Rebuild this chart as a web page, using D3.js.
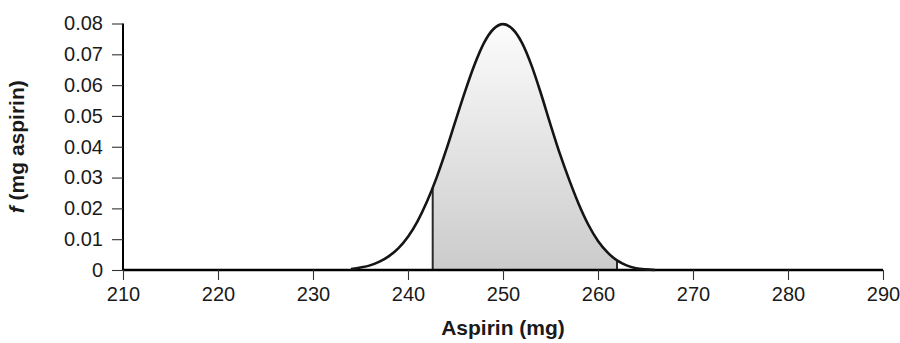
<!DOCTYPE html>
<html>
<head>
<meta charset="utf-8">
<script src="https://cdn.jsdelivr.net/npm/d3@7"></script>
<style>
  html, body { margin: 0; padding: 0; background: #fff; }
  svg { display: block; font-family: "Liberation Sans", Arial, sans-serif; }
</style>
</head>
<body>
<svg id="chart" width="900" height="343"></svg>
<script>
// ---- data ----
const curveX = [234,235,236,237,238,239,240,241,242,243,244,245,246,247,248,249,250,
                251,252,253,254,255,256,257,258,259,260,261,262,263,264,265,266];
const curveY = [0.0003,0.0008,0.0015,0.0027,0.0045,0.0071,0.0108,0.0158,0.0222,0.0299,
                0.0388,0.0484,0.0579,0.0666,0.0737,0.0782,0.0798,
                0.0782,0.0737,0.0664,0.0572,0.0472,0.0376,0.0290,0.0212,0.0146,0.0094,
                0.0057,0.0031,0.0015,0.0006,0.0002,0.0000];
const shadeFrom = 242.6;
const shadeTo = 262.0;
const xTicks = [210,220,230,240,250,260,270,280,290];
const yTicks = [0,0.01,0.02,0.03,0.04,0.05,0.06,0.07,0.08];
const yTickLabels = ["0","0.01","0.02","0.03","0.04","0.05","0.06","0.07","0.08"];
const xTitle = "Aspirin (mg)";
const yTitleItalic = "f";
const yTitleRest = " (mg aspirin)";

// ---- layout ----
const svg = d3.select("#chart");
const x = d3.scaleLinear().domain([210, 290]).range([123, 883]);
const y = d3.scaleLinear().domain([0, 0.08]).range([270, 23.5]);

const pts = curveX.map((v, i) => [v, curveY[i]]);

// gradient
const defs = svg.append("defs");
const grad = defs.append("linearGradient")
  .attr("id", "shade").attr("gradientUnits", "userSpaceOnUse")
  .attr("x1", 0).attr("x2", 0).attr("y1", y(0.08)).attr("y2", y(0));
grad.append("stop").attr("offset", "0%").attr("stop-color", "#fcfcfc");
grad.append("stop").attr("offset", "100%").attr("stop-color", "#cbcbcb");

defs.append("clipPath").attr("id", "clipShade")
  .append("rect")
  .attr("x", x(shadeFrom)).attr("width", x(shadeTo) - x(shadeFrom))
  .attr("y", 0).attr("height", y(0) + 1);

const curve = d3.curveMonotoneX;
const area = d3.area().x(d => x(d[0])).y0(y(0)).y1(d => y(d[1])).curve(curve);
const line = d3.line().x(d => x(d[0])).y(d => y(d[1])).curve(curve);

// shaded region
svg.append("path").datum(pts)
  .attr("d", area)
  .attr("fill", "url(#shade)")
  .attr("clip-path", "url(#clipShade)");

// vertical edges of the shaded region: find curve height by sampling the drawn path
const tmp = svg.append("path").datum(pts).attr("d", line).attr("fill", "none").attr("stroke", "none");
const node = tmp.node();
const L = node.getTotalLength();
function heightAt(px) {
  let lo = 0, hi = L;
  for (let k = 0; k < 40; k++) {
    const mid = (lo + hi) / 2;
    if (node.getPointAtLength(mid).x < px) lo = mid; else hi = mid;
  }
  return node.getPointAtLength(lo).y;
}
tmp.remove();
[shadeFrom, shadeTo].forEach(v => {
  svg.append("line")
    .attr("x1", x(v)).attr("x2", x(v))
    .attr("y1", y(0)).attr("y2", heightAt(x(v)))
    .attr("stroke", "#2a2a2a").attr("stroke-width", 2);
});

// axes
const xAxis = d3.axisBottom(x).tickValues(xTicks).tickSize(10).tickPadding(7).tickFormat(d3.format("d"));
const gx = svg.append("g").attr("transform", `translate(0,${y(0)})`).call(xAxis);
gx.select(".domain").attr("stroke", "#000").attr("stroke-width", 2.5).attr("d", `M${x(210)},0H${x(290)}`);
gx.selectAll(".tick line").attr("stroke", "#333").attr("stroke-width", 1.1);
gx.selectAll(".tick text").attr("font-size", 20).attr("fill", "#1a1a1a")
  .attr("font-family", "'Liberation Sans', Arial, sans-serif");

const yAxis = d3.axisLeft(y).tickValues(yTicks).tickSize(11).tickPadding(9)
  .tickFormat((d, i) => yTickLabels[i]);
const gy = svg.append("g").attr("transform", `translate(${x(210)},0)`).call(yAxis);
gy.select(".domain").attr("stroke", "#000").attr("stroke-width", 2).attr("d", `M0,${y(0.08)}V${y(0)}`);
gy.selectAll(".tick line").attr("stroke", "#333").attr("stroke-width", 1.1);
gy.selectAll(".tick text").attr("font-size", 20).attr("fill", "#1a1a1a")
  .attr("font-family", "'Liberation Sans', Arial, sans-serif");

// curve outline
svg.append("path").datum(pts)
  .attr("d", line)
  .attr("fill", "none").attr("stroke", "#151515").attr("stroke-width", 2.6);

// titles
svg.append("text")
  .attr("x", x(250)).attr("y", 335)
  .attr("text-anchor", "middle").attr("font-size", 21).attr("font-weight", "bold")
  .attr("fill", "#1a1a1a")
  .text(xTitle);

const yt = svg.append("text")
  .attr("transform", `translate(24,${(y(0) + y(0.08)) / 2}) rotate(-90)`)
  .attr("text-anchor", "middle").attr("font-size", 21).attr("font-weight", "bold")
  .attr("fill", "#1a1a1a");
yt.append("tspan").attr("font-style", "italic").text(yTitleItalic);
yt.append("tspan").text(yTitleRest);
</script>
</body>
</html>
